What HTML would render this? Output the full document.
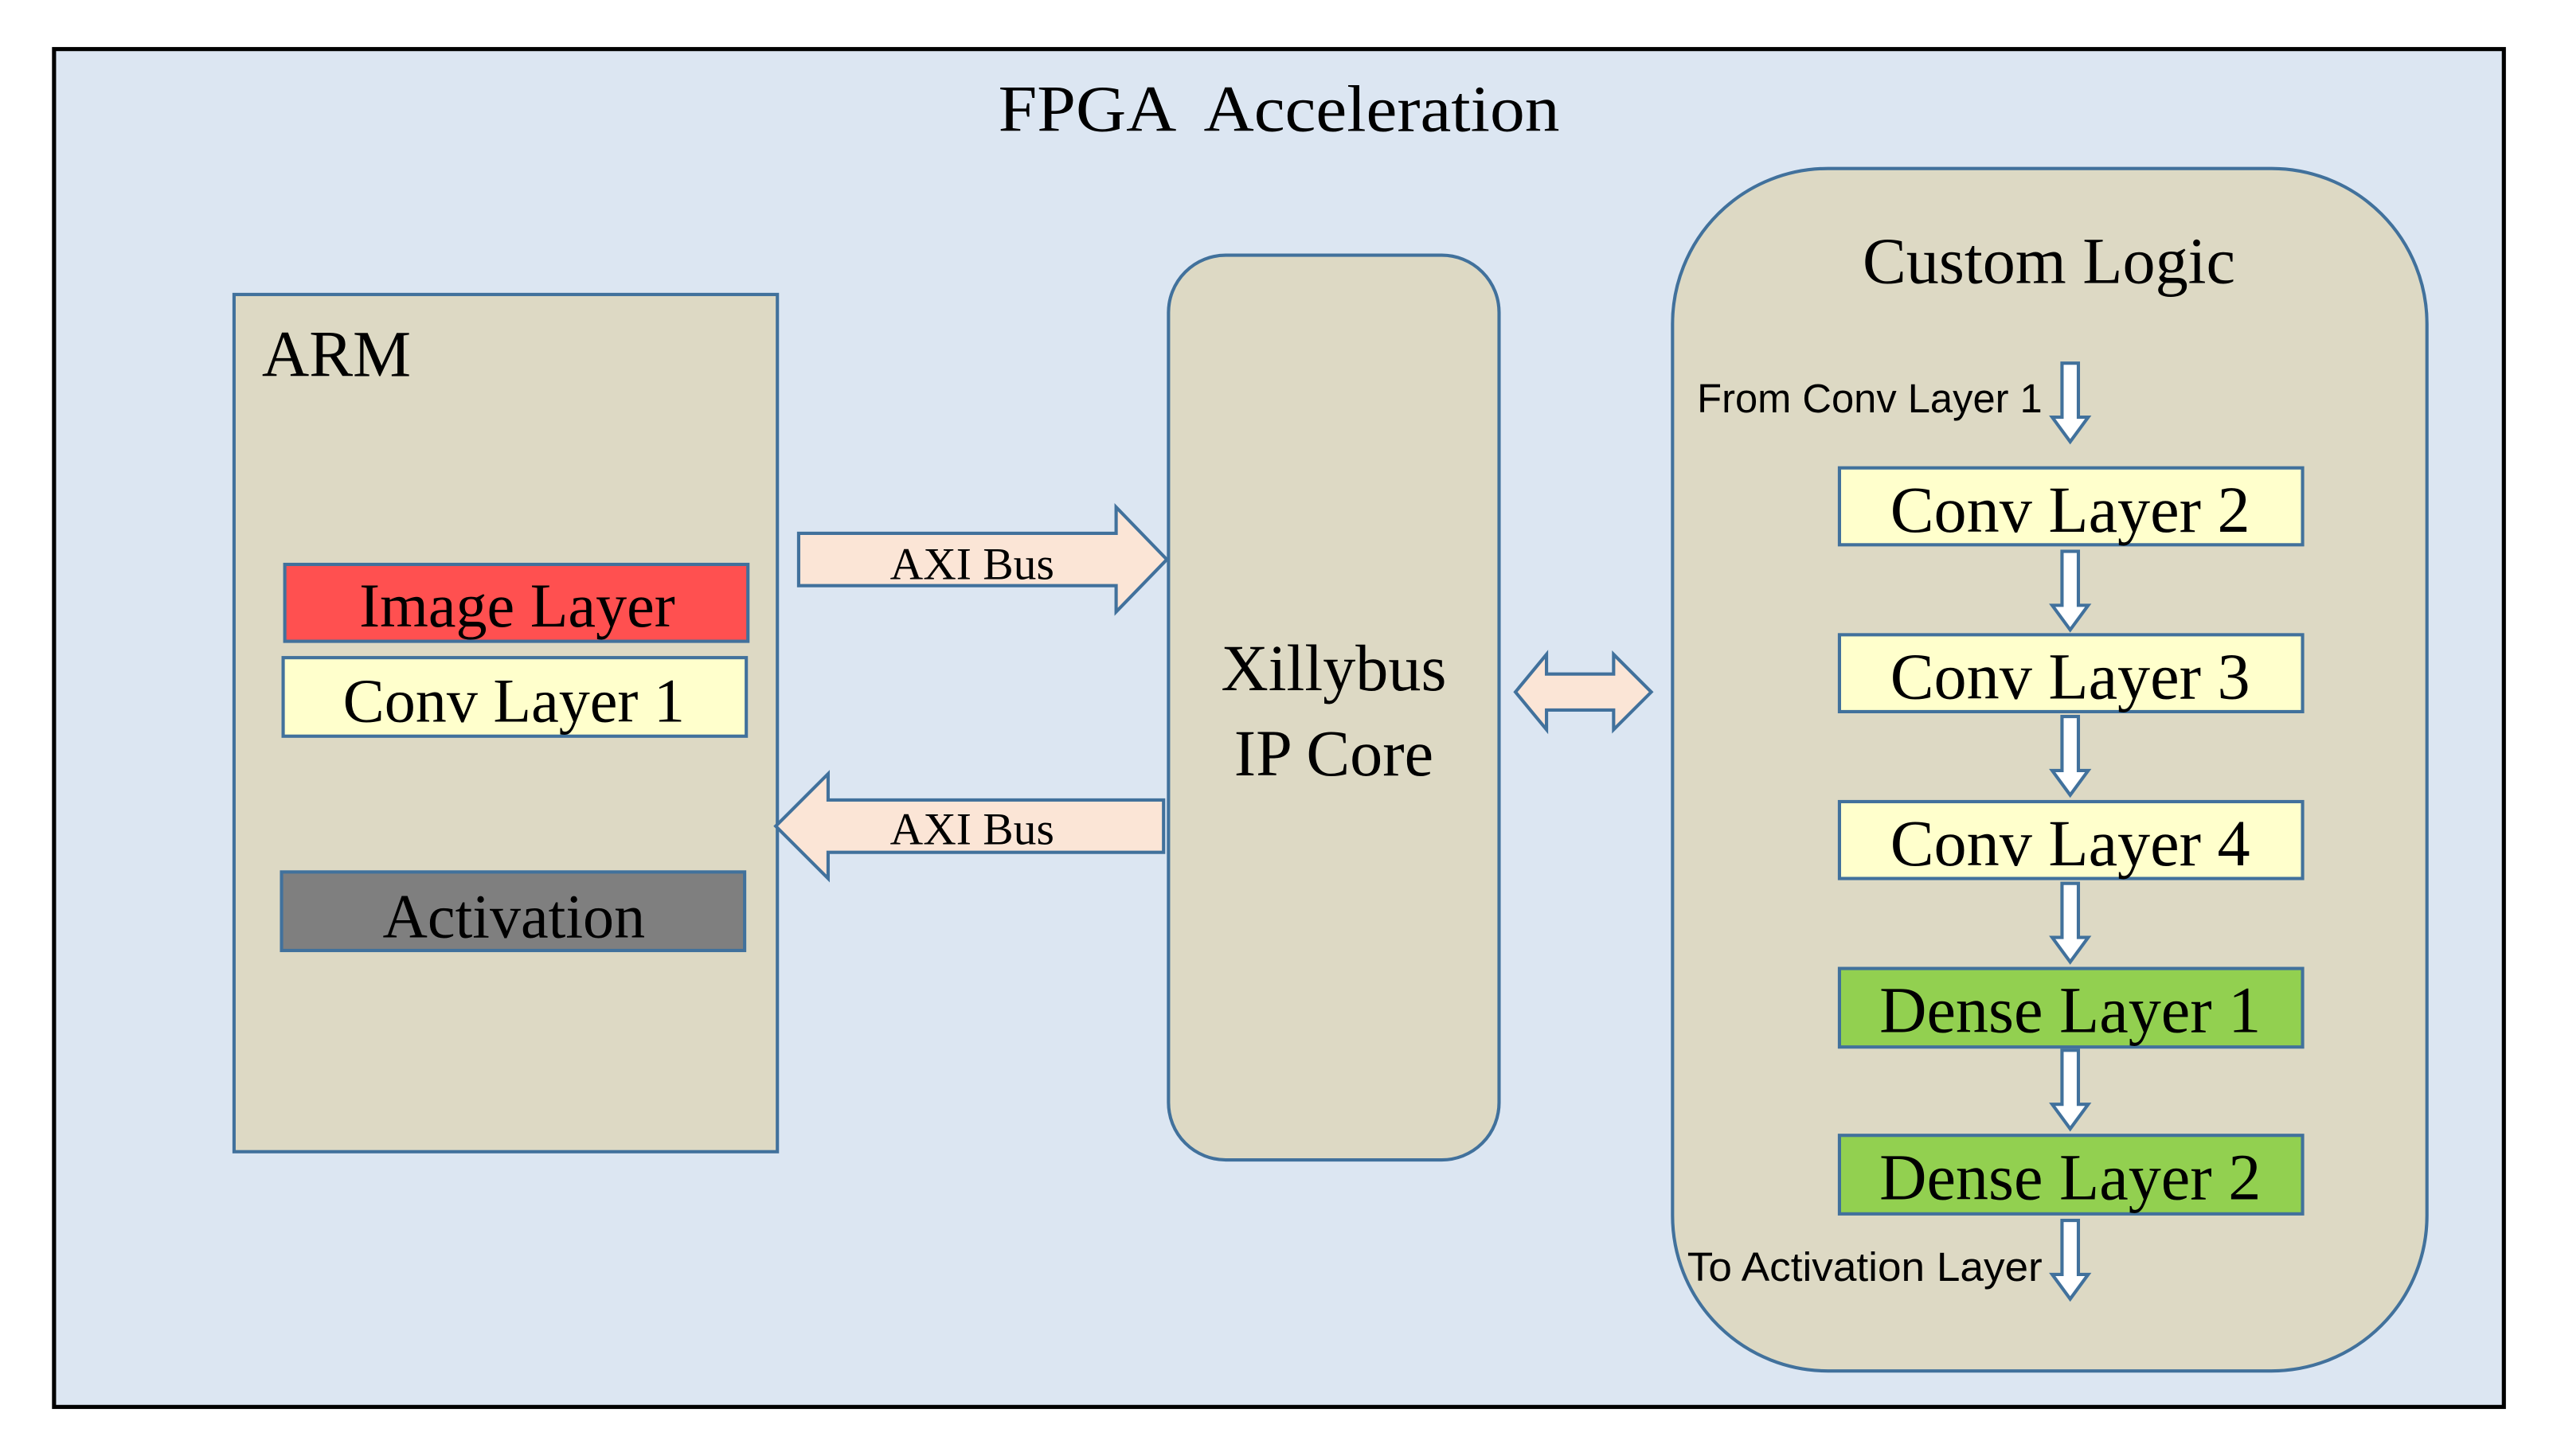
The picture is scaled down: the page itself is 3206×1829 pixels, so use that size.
<!DOCTYPE html>
<html><head><meta charset="utf-8"><style>html,body{margin:0;padding:0;background:#fff}svg{display:block}</style></head>
<body>
<svg width="3206" height="1829" viewBox="0 0 1560 890" xmlns="http://www.w3.org/2000/svg">
<defs>
<g id="da"><polygon points="-5,0 5,0 5,33 11,33 0,48 -11,33 -5,33" fill="#fff" stroke="#41719c" stroke-width="2" stroke-linejoin="miter"/></g>
</defs>
<rect x="0" y="0" width="1560" height="890" fill="#fff"/>
<rect x="33" y="30" width="1497" height="830" fill="#dce6f2" stroke="#000" stroke-width="2.5"/>
<g font-family="Liberation Serif, serif" fill="#000">
<text x="610" y="80" font-size="40" xml:space="preserve" textLength="343" lengthAdjust="spacingAndGlyphs">FPGA  Acceleration</text>
<rect x="143" y="180" width="332" height="524" fill="#ddd9c4" stroke="#41719c" stroke-width="2"/>
<text x="160" y="230" font-size="40">ARM</text>
<rect x="174" y="345" width="283" height="47" fill="#ff5050" stroke="#41719c" stroke-width="2"/>
<text x="316" y="383" font-size="38" text-anchor="middle">Image Layer</text>
<rect x="173" y="402" width="283" height="48" fill="#ffffcc" stroke="#41719c" stroke-width="2"/>
<text x="314" y="441" font-size="38" text-anchor="middle">Conv Layer 1</text>
<rect x="172" y="533" width="283" height="48" fill="#7f7f7f" stroke="#41719c" stroke-width="2"/>
<text x="314" y="573" font-size="38" text-anchor="middle">Activation</text>
<polygon points="488,326 682,326 682,310 713,342 682,374 682,358 488,358" fill="#fbe5d6" stroke="#41719c" stroke-width="2"/>
<text x="594" y="354" font-size="28" text-anchor="middle">AXI Bus</text>
<polygon points="711,489 506,489 506,473 474,505 506,537 506,521 711,521" fill="#fbe5d6" stroke="#41719c" stroke-width="2"/>
<text x="594" y="516" font-size="28" text-anchor="middle">AXI Bus</text>
<rect x="714" y="156" width="202" height="553" rx="35" ry="35" fill="#ddd9c4" stroke="#41719c" stroke-width="2"/>
<text x="815" y="422" font-size="40" text-anchor="middle">Xillybus</text>
<text x="815" y="474" font-size="40" text-anchor="middle">IP Core</text>
<polygon points="926,423 945,400 945,412 986,412 986,400 1009,423 986,446 986,434 945,434 945,446" fill="#fbe5d6" stroke="#41719c" stroke-width="2"/>
<rect x="1022" y="103" width="461" height="735" rx="95" ry="95" fill="#ddd9c4" stroke="#41719c" stroke-width="2"/>
<text x="1252" y="173" font-size="40" text-anchor="middle">Custom Logic</text>
<rect x="1124" y="286" width="283" height="47" fill="#ffffcc" stroke="#41719c" stroke-width="2"/>
<text x="1265" y="325" font-size="40" text-anchor="middle">Conv Layer 2</text>
<rect x="1124" y="388" width="283" height="47" fill="#ffffcc" stroke="#41719c" stroke-width="2"/>
<text x="1265" y="427" font-size="40" text-anchor="middle">Conv Layer 3</text>
<rect x="1124" y="490" width="283" height="47" fill="#ffffcc" stroke="#41719c" stroke-width="2"/>
<text x="1265" y="529" font-size="40" text-anchor="middle">Conv Layer 4</text>
<rect x="1124" y="592" width="283" height="48" fill="#92d050" stroke="#41719c" stroke-width="2"/>
<text x="1265" y="631" font-size="40" text-anchor="middle">Dense Layer 1</text>
<rect x="1124" y="694" width="283" height="48" fill="#92d050" stroke="#41719c" stroke-width="2"/>
<text x="1265" y="733" font-size="40" text-anchor="middle">Dense Layer 2</text>
</g>
<use href="#da" x="1265" y="222"/>
<use href="#da" x="1265" y="337"/>
<use href="#da" x="1265" y="438"/>
<use href="#da" x="1265" y="540"/>
<use href="#da" x="1265" y="642"/>
<use href="#da" x="1265" y="746"/>
<g font-family="Liberation Sans, sans-serif" font-size="25" fill="#000">
<text x="1037" y="252" textLength="211" lengthAdjust="spacingAndGlyphs">From Conv Layer 1</text>
<text x="1031" y="783" textLength="217" lengthAdjust="spacingAndGlyphs">To Activation Layer</text>
</g>
</svg>
</body></html>
